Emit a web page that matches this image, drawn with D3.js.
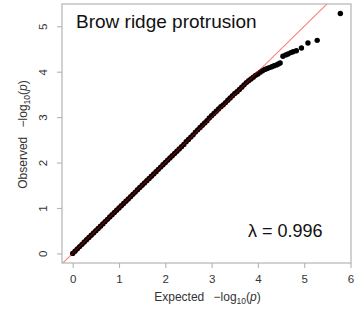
<!DOCTYPE html>
<html>
<head>
<meta charset="utf-8">
<script src="https://cdn.jsdelivr.net/npm/d3@7"></script>
<style>
  body { margin: 0; background: #fff; }
  text { font-family: "Liberation Sans", Arial, sans-serif; }
</style>
</head>
<body>
<script>
// QQ plot data: expected vs observed -log10(p)
var expected = [
  0.00, 0.05, 0.10, 0.15, 0.20, 0.25, 0.30, 0.35, 0.40, 0.45,
  0.50, 0.55, 0.60, 0.65, 0.70, 0.75, 0.80, 0.85, 0.90, 0.95,
  1.00, 1.05, 1.10, 1.15, 1.20, 1.25, 1.30, 1.35, 1.40, 1.45,
  1.50, 1.55, 1.60, 1.65, 1.70, 1.75, 1.80, 1.85, 1.90, 1.95,
  2.00, 2.05, 2.10, 2.15, 2.20, 2.25, 2.30, 2.35, 2.40, 2.45,
  2.50, 2.55, 2.60, 2.65, 2.70, 2.75, 2.80, 2.85, 2.90, 2.95,
  3.00, 3.05, 3.10, 3.15, 3.20, 3.25, 3.30, 3.35, 3.40, 3.45,
  3.50, 3.55, 3.60, 3.65, 3.70, 3.75, 3.80, 3.85, 3.90, 3.95,
  4.00, 4.05, 4.10, 4.15, 4.20, 4.25, 4.30, 4.35, 4.40, 4.44,
  4.48, 4.54, 4.60, 4.65, 4.71, 4.76, 4.83, 4.94, 5.08, 5.28, 5.78
];
var observed = [
  0.00, 0.05, 0.10, 0.15, 0.20, 0.25, 0.30, 0.35, 0.40, 0.45,
  0.50, 0.55, 0.60, 0.65, 0.70, 0.75, 0.80, 0.85, 0.90, 0.95,
  1.00, 1.05, 1.10, 1.15, 1.20, 1.25, 1.30, 1.35, 1.40, 1.45,
  1.50, 1.55, 1.60, 1.65, 1.70, 1.75, 1.80, 1.85, 1.90, 1.95,
  2.00, 2.05, 2.10, 2.15, 2.20, 2.25, 2.30, 2.35, 2.40, 2.46,
  2.51, 2.56, 2.61, 2.67, 2.72, 2.77, 2.82, 2.87, 2.92, 2.98,
  3.03, 3.08, 3.13, 3.18, 3.23, 3.27, 3.32, 3.37, 3.42, 3.47,
  3.52, 3.56, 3.61, 3.66, 3.71, 3.76, 3.80, 3.84, 3.88, 3.92,
  3.95, 3.99, 4.02, 4.05, 4.07, 4.09, 4.11, 4.13, 4.15, 4.17,
  4.19, 4.34, 4.37, 4.39, 4.42, 4.44, 4.46, 4.52, 4.63, 4.69, 5.28
];
var xTicks = [0, 1, 2, 3, 4, 5, 6];
var yTicks = [0, 1, 2, 3, 4, 5];
var title = "Brow ridge protrusion";
var lambdaLabel = "\u03bb = 0.996";

var width = 363, height = 311;
var box = { left: 62, right: 351, top: 4, bottom: 263 };

var svg = d3.select("body").append("svg")
  .attr("width", width)
  .attr("height", height);

var x = d3.scaleLinear().domain([-0.231, 6.01]).range([box.left, box.right]);
var y = d3.scaleLinear().domain([-0.211, 5.49]).range([box.bottom, box.top]);

svg.append("defs").append("clipPath").attr("id", "plotclip")
  .append("rect")
  .attr("x", box.left).attr("y", box.top)
  .attr("width", box.right - box.left).attr("height", box.bottom - box.top);

var points = expected.map(function(e, i) { return { e: e, o: observed[i] }; });

// points
svg.append("g").attr("clip-path", "url(#plotclip)")
  .selectAll("circle")
  .data(points)
  .enter().append("circle")
  .attr("cx", function(d) { return x(d.e); })
  .attr("cy", function(d) { return y(d.o); })
  .attr("r", 2.7)
  .attr("fill", "#000");

// y = x reference line, semi transparent red on top of points
svg.append("line")
  .attr("clip-path", "url(#plotclip)")
  .attr("x1", x(-1)).attr("y1", y(-1))
  .attr("x2", x(7)).attr("y2", y(7))
  .attr("stroke", "red")
  .attr("stroke-opacity", 0.5)
  .attr("stroke-width", 1.1);

// box
svg.append("rect")
  .attr("x", box.left).attr("y", box.top)
  .attr("width", box.right - box.left).attr("height", box.bottom - box.top)
  .attr("fill", "none")
  .attr("stroke", "#b4b4b4")
  .attr("stroke-width", 1.2);

// axes
var xAxis = svg.append("g")
  .attr("transform", "translate(0," + box.bottom + ")")
  .call(d3.axisBottom(x).tickValues(xTicks).tickSize(5).tickPadding(4).tickFormat(d3.format("d")));
xAxis.select(".domain").remove();

var yAxis = svg.append("g")
  .attr("transform", "translate(" + box.left + ",0)")
  .call(d3.axisLeft(y).tickValues(yTicks).tickSize(5).tickFormat(d3.format("d")));
yAxis.select(".domain").remove();

svg.selectAll(".tick line").attr("stroke", "#b4b4b4").attr("stroke-width", 1.1);
svg.selectAll(".tick text")
  .attr("fill", "#333")
  .style("font-family", "'Liberation Sans', Arial, sans-serif")
  .style("font-size", "11.5px");
xAxis.selectAll(".tick text").attr("dy", "0.95em");

// y tick labels rotated like R's las=0
yAxis.selectAll(".tick text")
  .attr("x", null)
  .attr("transform", "translate(-15,0) rotate(-90)")
  .attr("text-anchor", "middle")
  .attr("dy", "0");

// axis titles
var xl = svg.append("text")
  .attr("x", (box.left + box.right) / 2 + 1)
  .attr("y", 301)
  .attr("text-anchor", "middle")
  .attr("fill", "#333")
  .style("font-size", "12px");
xl.append("tspan").text("Expected \u2002\u2212log");
xl.append("tspan").attr("dy", 2.5).style("font-size", "8.5px").text("10");
xl.append("tspan").attr("dy", -2.5).text("(");
xl.append("tspan").style("font-style", "italic").text("p");
xl.append("tspan").text(")");

var yl = svg.append("text")
  .attr("transform", "translate(27," + ((box.top + box.bottom) / 2 + 1) + ") rotate(-90)")
  .attr("text-anchor", "middle")
  .attr("fill", "#333")
  .style("font-size", "12px");
yl.append("tspan").text("Observed \u2002\u2212log");
yl.append("tspan").attr("dy", 2.5).style("font-size", "8.5px").text("10");
yl.append("tspan").attr("dy", -2.5).text("(");
yl.append("tspan").style("font-style", "italic").text("p");
yl.append("tspan").text(")");

// title and lambda
svg.append("text")
  .attr("x", 76).attr("y", 28)
  .attr("fill", "#111")
  .style("font-size", "19px")
  .text(title);

svg.append("text")
  .attr("x", 248).attr("y", 237)
  .attr("fill", "#111")
  .style("font-size", "18px")
  .text(lambdaLabel);
</script>
</body>
</html>
